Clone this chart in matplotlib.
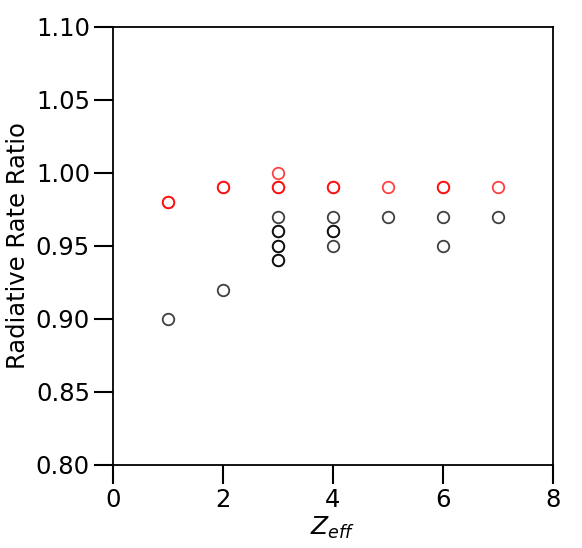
import matplotlib
matplotlib.use("Agg")
import matplotlib.pyplot as plt

# black series (duplicates included where markers look darker)
black_x = [1, 2, 3, 3, 3, 3, 3, 3, 3, 4, 4, 4, 4, 5, 6, 6, 7]
black_y = [0.90, 0.92, 0.94, 0.94, 0.95, 0.95, 0.96, 0.96, 0.97, 0.95, 0.96, 0.96, 0.97, 0.97, 0.95, 0.97, 0.97]
# red series
red_x = [1, 1, 2, 2, 3, 3, 3, 4, 4, 5, 6, 6, 7]
red_y = [0.98, 0.98, 0.99, 0.99, 1.00, 0.99, 0.99, 0.99, 0.99, 0.99, 0.99, 0.99, 0.99]

xticks = [0, 2, 4, 6, 8]
yticks = [0.80, 0.85, 0.90, 0.95, 1.00, 1.05, 1.10]

fig = plt.figure(figsize=(5.82, 5.48), dpi=100)
ax = fig.add_axes([0.194, 0.1515, 0.756, 0.80])

ax.plot(black_x, black_y, 'o', mfc='none', mec='black', mew=1.3, ms=8.3, alpha=0.75, ls='none')
ax.plot(red_x, red_y, 'o', mfc='none', mec='red', mew=1.3, ms=8.3, alpha=0.75, ls='none')

ax.set_xlim(0, 8)
ax.set_ylim(0.80, 1.10)
ax.set_xticks(xticks)
ax.set_yticks(yticks)
ax.set_yticklabels([f"{v:.2f}" for v in yticks])
ax.tick_params(direction='out', length=13.5, width=1.5, labelsize=17.5, pad=3)
for s in ax.spines.values():
    s.set_linewidth(1.3)

ax.set_xlabel(r"$Z_{eff}$", fontsize=18, labelpad=2)
ax.set_ylabel("Radiative Rate Ratio", fontsize=17.5, labelpad=4)

fig.savefig("out.png", dpi=100)
